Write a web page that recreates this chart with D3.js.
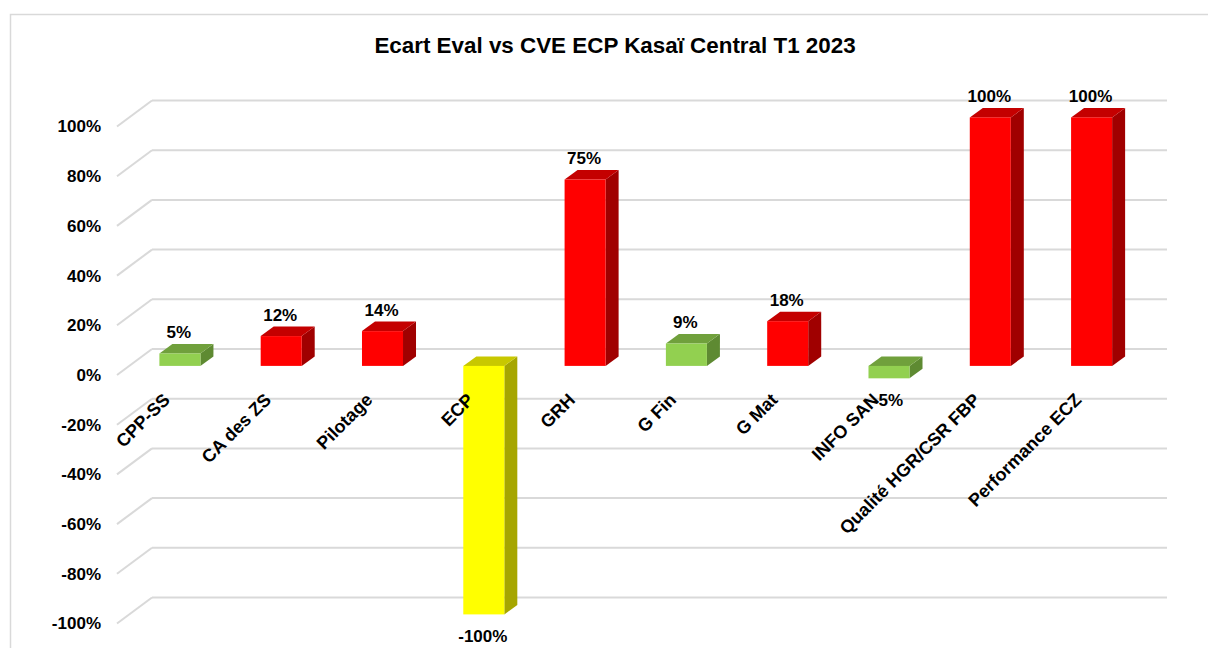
<!DOCTYPE html>
<html>
<head>
<meta charset="utf-8">
<script src="https://cdn.jsdelivr.net/npm/d3@7"></script>
<style>
  body { margin: 0; background: #fff; }
  text { font-family: Arial, "Liberation Sans", sans-serif; font-weight: bold; fill: #000; }
</style>
</head>
<body>
<div id="chart"></div>
<script>
// categories and values (ecart in %)
var categories = ["CPP-SS", "CA des ZS", "Pilotage", "ECP", "GRH", "G Fin", "G Mat", "INFO SAN", "Qualité HGR/CSR FBP", "Performance ECZ"];
var values = [0.05, 0.12, 0.14, -1.00, 0.75, 0.09, 0.18, -0.05, 1.00, 1.00];
var barColors = ["green", "red", "red", "yellow", "red", "green", "red", "green", "red", "red"];
var tickValues = [-1, -0.8, -0.6, -0.4, -0.2, 0, 0.2, 0.4, 0.6, 0.8, 1];
var title = "Ecart Eval vs CVE ECP Kasaï Central T1 2023";

var w = 1208;
var h = 648;

// 3d look
var wallDx = 35, wallDy = -26;      // front plane -> back wall
var barT = 0.35;                    // depth of bar front face
var barDx = 13, barDy = -9.5;       // bar depth

var palette = {
  red:    { front: "#ff0000", top: "#c40000", side: "#a00000" },
  green:  { front: "#92d050", top: "#70a03c", side: "#5e8a32" },
  yellow: { front: "#ffff00", top: "#c8c800", side: "#a6a600" }
};

// plain hyphen for negatives, like excel
var pct = d3.formatLocale({ decimal: ".", thousands: ",", grouping: [3], currency: ["", ""], minus: "-" }).format(".0%");

var svg = d3.select("#chart")
  .append("svg")
  .attr("width", w)
  .attr("height", h);

// chart border
svg.append("rect")
  .attr("x", 10.5).attr("y", 14.5)
  .attr("width", 1220).attr("height", 660)
  .attr("fill", "none")
  .attr("stroke", "#d9d9d9")
  .attr("stroke-width", 1.5);

svg.append("text")
  .attr("x", 615)
  .attr("y", 53)
  .attr("text-anchor", "middle")
  .attr("font-size", "22.4px")
  .text(title);

var x = d3.scaleBand()
  .domain(categories)
  .range([117, 1130])
  .paddingInner(0.595)
  .paddingOuter(0.2975);

var y = d3.scaleLinear()
  .domain([-1, 1])
  .range([623.5, 126.5]);

// gridlines: back wall + side wall
var grid = svg.append("g");
tickValues.forEach(function(t) {
  var yf = y(t);
  grid.append("line")
    .attr("x1", 117).attr("y1", yf)
    .attr("x2", 117 + wallDx).attr("y2", yf + wallDy)
    .attr("stroke", "#d9d9d9").attr("stroke-width", 2);
  grid.append("line")
    .attr("x1", 117 + wallDx).attr("y1", yf + wallDy)
    .attr("x2", 1167).attr("y2", yf + wallDy)
    .attr("stroke", "#d9d9d9").attr("stroke-width", 2);
});

// y axis labels
var yAxis = d3.axisLeft(y)
  .tickValues(tickValues)
  .tickFormat(pct)
  .tickSize(0)
  .tickPadding(0);

var ga = svg.append("g")
  .attr("transform", "translate(101,0)")
  .call(yAxis);
ga.select(".domain").remove();
ga.selectAll("text")
  .attr("font-size", "17px")
  .attr("font-family", "Arial, 'Liberation Sans', sans-serif")
  .attr("font-weight", "bold")
  .attr("fill", "#000");

// bars
var offX = barT * wallDx, offY = barT * wallDy;
var data = categories.map(function(c, i) {
  return { cat: c, value: values[i], color: palette[barColors[i]] };
});

var bars = svg.selectAll("g.bar")
  .data(data)
  .enter()
  .append("g")
  .attr("class", "bar");

function geom(d) {
  var x0 = x(d.cat) + offX;
  var x1 = x0 + x.bandwidth();
  var yTop = Math.min(y(d.value), y(0)) + offY;
  var yBot = Math.max(y(d.value), y(0)) + offY;
  return { x0: x0, x1: x1, yTop: yTop, yBot: yBot };
}

bars.append("path")
  .attr("d", function(d) {
    var g = geom(d);
    return "M" + g.x1 + "," + g.yTop + "L" + (g.x1 + barDx) + "," + (g.yTop + barDy) +
      "L" + (g.x1 + barDx) + "," + (g.yBot + barDy) + "L" + g.x1 + "," + g.yBot + "Z";
  })
  .attr("fill", function(d) { return d.color.side; });

bars.append("path")
  .attr("d", function(d) {
    var g = geom(d);
    return "M" + g.x0 + "," + g.yTop + "L" + (g.x0 + barDx) + "," + (g.yTop + barDy) +
      "L" + (g.x1 + barDx) + "," + (g.yTop + barDy) + "L" + g.x1 + "," + g.yTop + "Z";
  })
  .attr("fill", function(d) { return d.color.top; });

bars.append("rect")
  .attr("x", function(d) { return geom(d).x0; })
  .attr("y", function(d) { return geom(d).yTop; })
  .attr("width", x.bandwidth())
  .attr("height", function(d) { var g = geom(d); return g.yBot - g.yTop; })
  .attr("fill", function(d) { return d.color.front; });

// category labels
svg.selectAll("text.cat")
  .data(categories)
  .enter()
  .append("text")
  .attr("class", "cat")
  .attr("font-size", "18px")
  .attr("text-anchor", "end")
  .attr("transform", function(d) {
    var cx = x(d) + offX + x.bandwidth() / 2 - 9;
    return "translate(" + cx + ",401) rotate(-45)";
  })
  .text(function(d) { return d; });

// value labels
svg.selectAll("text.val")
  .data(data)
  .enter()
  .append("text")
  .attr("class", "val")
  .attr("font-size", "17px")
  .attr("text-anchor", "middle")
  .attr("x", function(d) { return x(d.cat) + offX + x.bandwidth() / 2 - 1; })
  .attr("y", function(d) {
    var g = geom(d);
    return d.value >= 0 ? g.yTop + barDy - 6 : g.yBot + 28;
  })
  .text(function(d) { return pct(d.value); });
</script>
</body>
</html>
